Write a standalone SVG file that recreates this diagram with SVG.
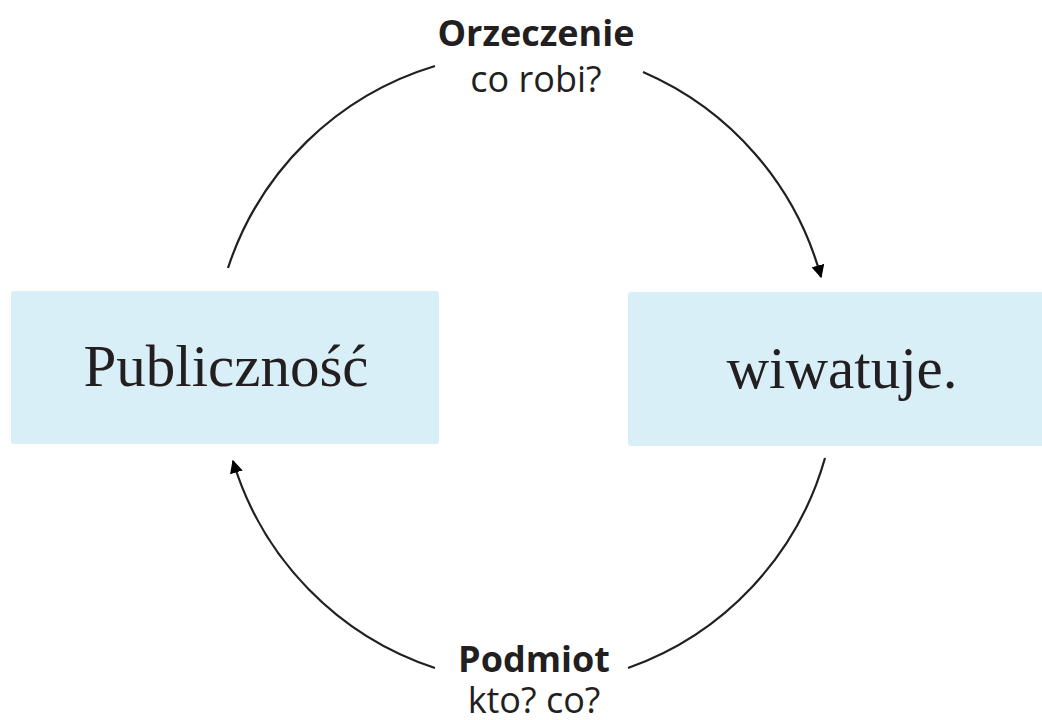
<svg xmlns="http://www.w3.org/2000/svg" width="1042" height="720" viewBox="0 0 1042 720">
<defs>
<style>
.box{fill:#d9eff8}
.serif{font-family:"Liberation Serif","DejaVu Serif",serif;font-size:59px;fill:#231f20;text-anchor:middle}
.bold{font-family:"Open Sans","Noto Sans",sans-serif;font-weight:bold;font-size:36px;fill:#231f20;text-anchor:middle}
.reg{font-family:"Open Sans","Noto Sans",sans-serif;font-size:36px;fill:#231f20;text-anchor:middle}
.arc{fill:none;stroke:#231f20;stroke-width:2.2}
</style>
<marker id="arr" viewBox="0 0 10 10" refX="9" refY="5" markerWidth="6" markerHeight="6" orient="auto" markerUnits="strokeWidth">
<path d="M0,0 L10,5 L0,10 z" fill="#000"/>
</marker>
</defs>
<rect width="1042" height="720" fill="#fff"/>
<g id="connectors">
<path class="arc" d="M228,268 A313,313 0 0 1 435,66"/>
<path class="arc" d="M643,72 A313,313 0 0 1 821,277" marker-end="url(#arr)"/>
<path class="arc" d="M825,458 A313,313 0 0 1 628,668"/>
<path class="arc" d="M435,668 A313,313 0 0 1 233,461" marker-end="url(#arr)"/>
</g>
<g id="node-publicznosc">
<rect class="box" x="11" y="291" width="428" height="153" rx="3"/>
<text class="serif" x="226" y="386">Publiczność</text>
</g>
<g id="node-wiwatuje">
<rect class="box" x="628" y="292" width="420" height="154" rx="3"/>
<text class="serif" x="842" y="388">wiwatuje.</text>
</g>
<g id="label-orzeczenie">
<text class="bold" x="536" y="46">Orzeczenie</text>
<text class="reg" x="536" y="92">co robi?</text>
</g>
<g id="label-podmiot">
<text class="bold" x="534" y="672">Podmiot</text>
<text class="reg" x="534" y="713">kto? co?</text>
</g>
</svg>
